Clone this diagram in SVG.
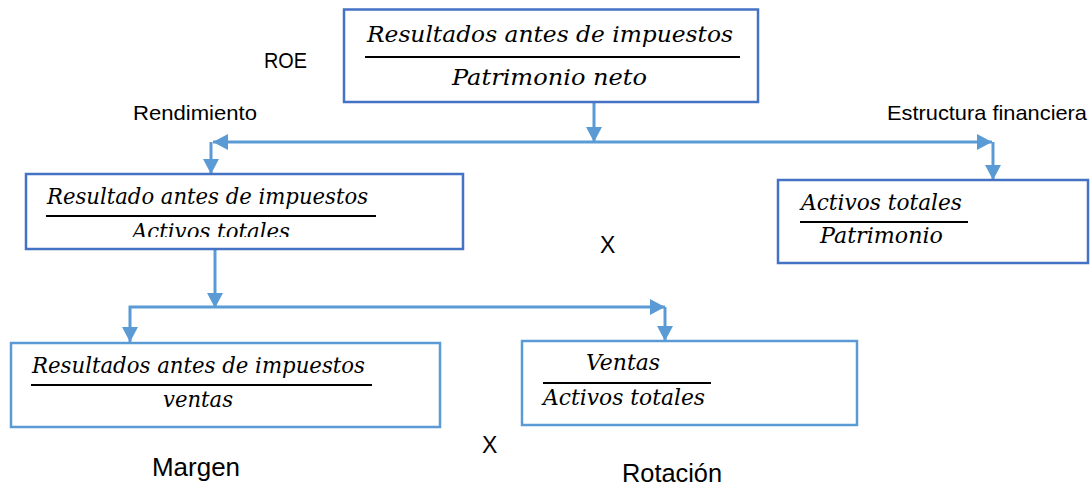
<svg xmlns="http://www.w3.org/2000/svg" width="1091" height="488" viewBox="0 0 1091 488">
<style>
.box{fill:#fff;stroke-width:2.5}
.dk{stroke:#4472C4}
.lt{stroke:#5B9BD5}
.fr{font-family:"DejaVu Serif","Liberation Serif",serif;font-style:italic;font-size:22px;fill:#000}
.fl{stroke:#000;stroke-width:2}
.lb{font-family:"Liberation Sans",Arial,sans-serif;fill:#000}
.cn{fill:none;stroke:#5B9BD5;stroke-width:3}
</style>
<defs>
<marker id="ah" viewBox="0 0 15 16" refX="15" refY="8" markerWidth="15" markerHeight="16" markerUnits="userSpaceOnUse" orient="auto-start-reverse">
<path d="M0,0 L15,8 L0,16 Z" fill="#5B9BD5"/>
</marker>
<clipPath id="c2"><rect x="26" y="174" width="437" height="63"/></clipPath>
</defs>
<g id="connectors">
<line class="cn" x1="594" y1="103" x2="594" y2="142" marker-end="url(#ah)"/>
<line class="cn" x1="213" y1="142" x2="992" y2="142" marker-start="url(#ah)" marker-end="url(#ah)"/>
<line class="cn" x1="211" y1="142" x2="211" y2="174" marker-end="url(#ah)"/>
<line class="cn" x1="993" y1="142" x2="993" y2="180" marker-end="url(#ah)"/>
<line class="cn" x1="215" y1="249" x2="215" y2="308" marker-end="url(#ah)"/>
<polyline class="cn" points="130,342 130,307 665,307" marker-start="url(#ah)" marker-end="url(#ah)"/>
<line class="cn" x1="665" y1="307" x2="665" y2="341" marker-end="url(#ah)"/>
</g>
<g id="roe">
<rect class="box dk" x="344" y="9.5" width="414" height="92.5"/>
<text class="fr" x="367" y="42" textLength="366" lengthAdjust="spacingAndGlyphs">Resultados antes de impuestos</text>
<line class="fl" x1="365" y1="57" x2="740" y2="57"/>
<text class="fr" x="452" y="85" textLength="195" lengthAdjust="spacingAndGlyphs">Patrimonio neto</text>
</g>
<g id="rendimiento">
<rect class="box dk" x="26" y="174" width="437" height="75"/>
<text class="fr" x="47" y="204" textLength="321" lengthAdjust="spacingAndGlyphs">Resultado antes de impuestos</text>
<line class="fl" x1="46" y1="216" x2="376" y2="216"/>
<text class="fr" x="132" y="239" textLength="158" lengthAdjust="spacingAndGlyphs" clip-path="url(#c2)">Activos totales</text>
</g>
<g id="estructura">
<rect class="box dk" x="778" y="180" width="310" height="83"/>
<text class="fr" x="801" y="210" textLength="161" lengthAdjust="spacingAndGlyphs">Activos totales</text>
<line class="fl" x1="800" y1="222" x2="968" y2="222"/>
<text class="fr" x="820" y="243" textLength="123" lengthAdjust="spacingAndGlyphs">Patrimonio</text>
</g>
<g id="margen">
<rect class="box lt" x="11" y="343" width="429" height="84"/>
<text class="fr" x="32" y="373" textLength="333" lengthAdjust="spacingAndGlyphs">Resultados antes de impuestos</text>
<line class="fl" x1="31" y1="385" x2="372" y2="385"/>
<text class="fr" x="163" y="407" textLength="70" lengthAdjust="spacingAndGlyphs">ventas</text>
</g>
<g id="rotacion">
<rect class="box lt" x="522" y="341" width="335" height="84"/>
<text class="fr" x="586" y="370" textLength="74" lengthAdjust="spacingAndGlyphs">Ventas</text>
<line class="fl" x1="543" y1="383" x2="711" y2="383"/>
<text class="fr" x="543" y="405" textLength="162" lengthAdjust="spacingAndGlyphs">Activos totales</text>
</g>
<g id="labels">
<text class="lb" x="264" y="68" font-size="22" textLength="43" lengthAdjust="spacingAndGlyphs">ROE</text>
<text class="lb" x="133" y="120" font-size="21" textLength="124" lengthAdjust="spacingAndGlyphs">Rendimiento</text>
<text class="lb" x="887" y="120" font-size="21" textLength="200" lengthAdjust="spacingAndGlyphs">Estructura financiera</text>
<text class="lb" x="600" y="253" font-size="23">X</text>
<text class="lb" x="482" y="453" font-size="23">X</text>
<text class="lb" x="152" y="476" font-size="25" textLength="88" lengthAdjust="spacingAndGlyphs">Margen</text>
<text class="lb" x="622" y="482" font-size="25" textLength="100" lengthAdjust="spacingAndGlyphs">Rotación</text>
</g>
</svg>
